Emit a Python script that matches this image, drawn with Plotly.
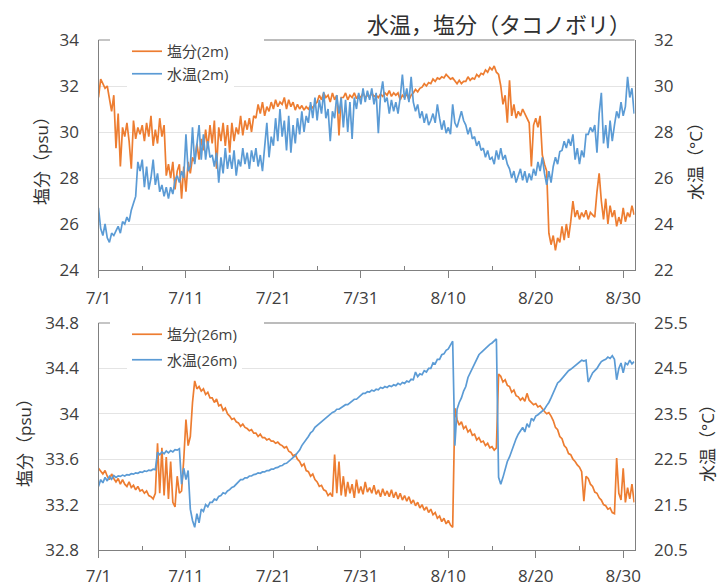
import pandas as pd
import plotly.graph_objects as go

# ---------------- data (6-hourly, starting 2023-07-01 00:00) ----------------
start_time = "2023-07-01 00:00"
step = "6h"

sal_2m = [
    31.5, 32.3, 32.1, 31.9,
    32.0, 31.4, 30.9, 31.6,
    29.3, 30.8, 28.5, 30.2,
    29.8, 30.4, 29.6, 28.4,
    30.5, 29.7, 30.2, 29.9,
    30.3, 29.6, 30.4, 29.8,
    30.7, 29.4, 30.1, 29.5,
    30.6, 29.8, 30.3, 28.1,
    28.6, 28.0, 28.7, 27.5,
    28.3, 28.6, 27.1, 28.5,
    27.4, 28.7, 28.2, 28.9,
    28.7, 29.5, 28.8, 29.7,
    29.2, 30.1, 29.3, 30.3,
    29.5, 30.5, 28.4, 30.2,
    29.6, 30.4, 29.4, 30.3,
    29.1, 30.4, 29.6, 30.2,
    29.9, 30.7, 29.85, 30.5,
    30.1, 30.6, 30.0, 30.7,
    30.6, 31.2, 30.8, 31.3,
    30.7, 31.1, 30.9, 31.3,
    31.0, 31.4, 31.1, 31.3,
    31.2, 31.5, 31.0, 31.4,
    31.1, 31.3, 30.95, 31.2,
    31.0, 31.15, 30.95, 31.1,
    31.0, 31.15, 31.05, 31.2,
    31.3, 31.6, 31.4, 31.7,
    31.5, 31.6, 31.3, 31.7,
    31.4, 31.6, 29.85, 31.5,
    31.5, 31.7, 31.4, 31.6,
    31.5, 31.7, 31.45, 31.6,
    31.5, 31.7, 31.5, 31.6,
    31.5, 31.7, 31.55, 31.6,
    31.5, 31.65, 31.55, 31.7,
    31.6, 31.8, 31.55, 31.7,
    31.6, 31.7, 31.4, 31.6,
    31.5, 31.65, 31.4, 31.6,
    31.7, 31.85, 31.75, 31.9,
    31.95, 32.1, 32.0, 32.15,
    32.1, 32.3, 32.2, 32.35,
    32.3, 32.4, 32.35, 32.5,
    32.4, 32.3, 32.35, 32.2,
    32.1, 32.25, 32.1, 32.2,
    32.2, 32.4, 32.25, 32.35,
    32.3, 32.5, 32.4, 32.55,
    32.5, 32.7, 32.6, 32.8,
    32.7, 32.87, 32.6, 32.5,
    32.0, 31.2, 31.6, 30.4,
    32.25, 30.7, 31.2, 30.6,
    30.9, 30.7, 31.0, 30.8,
    30.6, 30.4, 28.5, 30.3,
    30.6, 30.2, 30.7, 29.0,
    28.6, 28.3, 25.6, 25.1,
    25.5, 24.85, 25.4, 25.2,
    25.9, 25.3, 26.0, 25.4,
    26.1, 27.0, 26.3, 26.6,
    26.2, 26.5, 26.3, 26.6,
    26.2, 26.5, 26.4, 26.3,
    27.4, 28.2, 27.0, 26.2,
    27.1, 26.0, 26.8, 26.3,
    26.6, 25.9, 26.3, 26.0,
    26.7, 26.1, 26.5, 26.3,
    26.8, 26.4,
]

temp_2m = [
    24.7, 23.8, 23.5, 24.0,
    23.4, 23.2, 23.6, 23.5,
    23.7, 23.9, 23.6, 24.1,
    24.0, 24.3, 24.1, 24.6,
    24.9, 25.2, 26.7, 26.3,
    26.8, 25.6, 26.5, 25.5,
    26.0, 26.8, 25.7, 26.2,
    25.4, 25.7, 25.2, 25.6,
    25.1, 25.6, 25.3, 25.9,
    26.1, 25.8, 26.3, 26.0,
    27.9, 26.3, 26.5, 28.2,
    26.6, 27.4, 28.3, 26.8,
    27.9, 26.8, 27.6, 26.9,
    27.0, 26.5, 27.1, 25.8,
    26.9, 26.2, 27.3, 26.4,
    27.0, 26.4, 27.2, 26.1,
    26.8, 26.5, 27.3, 26.6,
    27.1, 26.4, 27.2, 26.7,
    27.3, 26.5, 27.0, 26.3,
    27.5, 28.4, 26.9, 27.8,
    27.4, 28.6, 27.6, 29.0,
    27.8, 28.5, 27.2, 28.7,
    27.1, 28.3, 27.5, 28.6,
    27.9, 28.9, 28.0, 28.7,
    28.4, 29.3, 28.6, 29.5,
    28.5, 29.4, 28.8, 29.75,
    28.6, 29.0, 27.6, 28.9,
    28.6, 29.6, 28.8, 29.5,
    28.2, 29.4, 28.0, 29.3,
    27.7, 29.5, 29.0, 29.7,
    29.2, 29.9, 29.3, 29.8,
    29.4, 29.9, 29.2, 29.7,
    27.95, 29.6, 30.2, 29.3,
    29.5, 28.8, 29.4, 28.9,
    29.3, 28.8, 29.5, 30.5,
    29.4, 29.9, 29.3, 30.4,
    29.3, 28.9, 29.2, 28.6,
    28.9, 28.4, 28.8, 28.3,
    28.5, 28.8, 28.4, 29.2,
    28.6, 28.1, 28.5, 27.95,
    28.2, 27.9, 29.2, 28.4,
    28.2, 28.6, 28.9, 28.5,
    28.3, 27.9, 28.2, 27.7,
    27.8, 27.4, 27.6, 27.2,
    27.3, 26.9, 27.2, 26.8,
    26.9, 26.6, 27.2, 26.8,
    27.3, 26.8, 27.0, 26.6,
    26.4, 26.0, 26.3, 25.8,
    26.1, 26.4, 25.9, 26.3,
    25.8, 26.2, 25.9, 26.4,
    26.1, 26.7, 26.3, 26.9,
    26.2, 25.7, 26.3, 25.8,
    26.5, 26.9, 26.6, 27.15,
    27.2, 27.6, 27.3, 27.7,
    27.4, 27.9, 26.8, 27.3,
    26.6, 27.2, 26.9, 27.9,
    27.9, 28.2, 28.0, 28.3,
    27.1, 28.8, 29.7, 27.5,
    28.3, 27.3, 28.5, 27.6,
    28.3, 28.9, 28.6, 29.3,
    28.7, 29.1, 30.4, 29.5,
    29.9, 28.8,
]

sal_26m = [
    33.52, 33.49, 33.47, 33.50,
    33.45, 33.42, 33.47, 33.43,
    33.40, 33.43, 33.38, 33.42,
    33.38, 33.36, 33.40, 33.35,
    33.37, 33.33, 33.36, 33.32,
    33.33, 33.30, 33.32, 33.28,
    33.27, 33.25, 33.30, 33.74,
    33.30, 33.70, 33.28, 33.62,
    33.25, 33.58, 33.22, 33.18,
    33.45, 33.30, 33.32, 33.60,
    33.95, 33.72, 33.80, 34.10,
    34.29, 34.22, 34.24, 34.20,
    34.22, 34.17, 34.19, 34.14,
    34.14, 34.10, 34.13, 34.07,
    34.08, 34.03, 34.05, 34.00,
    33.98, 33.95, 33.96, 33.93,
    33.92, 33.89, 33.91, 33.88,
    33.87, 33.85, 33.86, 33.83,
    33.83, 33.80, 33.82, 33.79,
    33.79, 33.77, 33.78, 33.76,
    33.76, 33.74, 33.75, 33.73,
    33.72, 33.70, 33.71, 33.67,
    33.66, 33.63, 33.64, 33.60,
    33.58, 33.54, 33.56, 33.50,
    33.49, 33.45, 33.47, 33.42,
    33.40, 33.36, 33.37, 33.33,
    33.32, 33.28, 33.30, 33.27,
    33.64, 33.30, 33.58, 33.28,
    33.45, 33.27, 33.40, 33.30,
    33.38, 33.26, 33.42, 33.30,
    33.36, 33.29, 33.40, 33.31,
    33.35, 33.30, 33.37, 33.29,
    33.33, 33.27, 33.34, 33.28,
    33.32, 33.27, 33.33, 33.26,
    33.31, 33.25, 33.30, 33.24,
    33.28, 33.23, 33.27, 33.21,
    33.24, 33.19, 33.22, 33.17,
    33.20, 33.15, 33.18, 33.13,
    33.16, 33.11, 33.13, 33.08,
    33.10, 33.05, 33.08, 33.03,
    33.06, 33.02, 33.00, 34.05,
    33.95, 33.90, 33.93, 33.87,
    33.89, 33.84, 33.86, 33.81,
    33.82, 33.77, 33.79, 33.75,
    33.76, 33.72, 33.74, 33.70,
    33.71, 33.68, 33.70, 34.35,
    34.33, 34.28, 34.30, 34.25,
    34.24, 34.19, 34.21, 34.16,
    34.15, 34.12, 34.14, 34.11,
    34.18, 34.12, 34.10, 34.08,
    34.09, 34.06, 34.07, 34.04,
    34.02, 34.00, 34.01, 33.98,
    33.94, 33.88, 33.86, 33.80,
    33.78, 33.72, 33.70, 33.65,
    33.64, 33.60, 33.58, 33.55,
    33.53, 33.49, 33.23, 33.45,
    33.43, 33.38, 33.36, 33.31,
    33.30, 33.26, 33.24, 33.20,
    33.19, 33.16, 33.17, 33.13,
    33.12, 33.61, 33.30, 33.24,
    33.52, 33.22, 33.35, 33.25,
    33.38, 33.22,
]

temp_26m = [
    21.90, 22.05, 21.98, 22.10,
    22.02, 22.12, 22.06, 22.14,
    22.10, 22.13, 22.12, 22.15,
    22.13, 22.16, 22.15, 22.18,
    22.17, 22.20, 22.19, 22.22,
    22.21, 22.24, 22.23, 22.26,
    22.25, 22.28, 22.27, 22.65,
    22.60, 22.66, 22.62, 22.68,
    22.64, 22.69, 22.66, 22.71,
    22.70, 22.73, 21.95, 22.30,
    22.05, 22.25, 21.40, 21.15,
    21.00, 21.30, 21.10, 21.40,
    21.35, 21.50, 21.45, 21.55,
    21.55, 21.62, 21.60, 21.68,
    21.70, 21.76, 21.74, 21.80,
    21.83, 21.88, 21.90, 21.95,
    21.98, 22.05, 22.05, 22.09,
    22.09, 22.13, 22.13, 22.16,
    22.17, 22.20, 22.19, 22.22,
    22.22, 22.25, 22.25, 22.28,
    22.28, 22.31, 22.32, 22.35,
    22.36, 22.40, 22.41, 22.45,
    22.48, 22.54, 22.58, 22.64,
    22.70, 22.80, 22.86, 22.94,
    23.00, 23.08, 23.12, 23.20,
    23.24, 23.30, 23.32, 23.38,
    23.40, 23.46, 23.48, 23.53,
    23.55, 23.60, 23.60, 23.64,
    23.66, 23.70, 23.70, 23.74,
    23.77, 23.82, 23.82, 23.87,
    23.90, 23.95, 23.95, 23.99,
    23.98, 24.02, 24.00, 24.04,
    24.03, 24.08, 24.06, 24.10,
    24.08, 24.12, 24.10, 24.14,
    24.12, 24.17, 24.14, 24.19,
    24.17, 24.22, 24.20, 24.26,
    24.25, 24.42, 24.32, 24.38,
    24.36, 24.45, 24.42, 24.50,
    24.50, 24.62, 24.60, 24.70,
    24.70, 24.80, 24.82, 24.90,
    24.93, 25.02, 25.10, 22.80,
    23.60, 23.75, 23.85, 24.00,
    24.10, 24.30, 24.40, 24.52,
    24.60, 24.70, 24.80, 24.85,
    24.90, 24.95, 24.98, 25.03,
    25.06, 25.10, 25.15, 22.10,
    21.95, 22.10, 22.30, 22.45,
    22.55, 22.70, 22.85, 22.95,
    23.05, 23.12, 23.20, 23.10,
    23.28, 23.20, 23.40, 23.35,
    23.45, 23.48, 23.52, 23.58,
    23.60, 23.68, 23.75, 23.85,
    23.95, 24.08, 24.18, 24.22,
    24.28, 24.34, 24.38, 24.45,
    24.48, 24.52, 24.56, 24.60,
    24.62, 24.68, 24.66, 24.68,
    24.20, 24.30, 24.40, 24.45,
    24.50, 24.58, 24.65, 24.68,
    24.70, 24.75, 24.72, 24.78,
    24.70, 24.25, 24.50, 24.62,
    24.40, 24.62, 24.58, 24.68,
    24.60, 24.65,
]

tick_dates = ["2023-07-01", "2023-07-11", "2023-07-21", "2023-07-31",
              "2023-08-10", "2023-08-20", "2023-08-30"]
tick_labels = ["7/1", "7/11", "7/21", "7/31", "8/10", "8/20", "8/30"]
minor_dates = ["2023-07-06", "2023-07-16", "2023-07-26", "2023-08-05",
               "2023-08-15", "2023-08-25"]
x_range = ["2023-07-01 00:00", "2023-08-31 07:00"]

sal_2m_ticks = [24, 26, 28, 30, 32, 34]
temp_2m_ticks = [22, 24, 26, 28, 30, 32]
sal_26m_ticks = [32.8, 33.2, 33.6, 34.0, 34.4, 34.8]
sal_26m_labels = ["32.8", "33.2", "33.6", "34", "34.4", "34.8"]
temp_26m_ticks = [20.5, 21.5, 22.5, 23.5, 24.5, 25.5]
temp_26m_labels = ["20.5", "21.5", "22.5", "23.5", "24.5", "25.5"]

title_text = "水温，塩分（タコノボリ）"
sal_axis_title = "塩分（psu）"
temp_axis_title = "水温（°C）"

# ---------------- figure ----------------
def times_for(series):
    return pd.date_range(start_time, periods=len(series), freq=step)

W, H = 728, 586
def fx(p): return p / W
def fy(p): return 1 - p / H

X0, X1 = 98.5, 634.5
ORANGE = "#ED7D31"
BLUE = "#5B9BD5"
AX = "#808080"
GRID = "#E4E4E4"
TXT = "#404040"
FONT = "Open Sans, Noto Sans CJK JP, sans-serif"

fig = go.Figure()
fig.add_trace(go.Scatter(x=times_for(sal_2m), y=sal_2m, name="塩分(2m)", mode="lines",
                         line=dict(color=ORANGE, width=1.7), xaxis="x", yaxis="y",
                         legend="legend", legendgroup="a"))
fig.add_trace(go.Scatter(x=times_for(temp_2m), y=temp_2m, name="水温(2m)", mode="lines",
                         line=dict(color=BLUE, width=1.7), xaxis="x", yaxis="y2",
                         legend="legend", legendgroup="b"))
fig.add_trace(go.Scatter(x=times_for(sal_26m), y=sal_26m, name="塩分(26m)", mode="lines",
                         line=dict(color=ORANGE, width=1.7), xaxis="x2", yaxis="y3",
                         legend="legend2", legendgroup="c"))
fig.add_trace(go.Scatter(x=times_for(temp_26m), y=temp_26m, name="水温(26m)", mode="lines",
                         line=dict(color=BLUE, width=1.7), xaxis="x2", yaxis="y4",
                         legend="legend2", legendgroup="d"))

def xaxis_cfg(anchor, standoff):
    return dict(domain=[fx(X0), fx(X1)], anchor=anchor, type="date", range=x_range,
                automargin=False,
                tickmode="array", tickvals=tick_dates, ticktext=tick_labels,
                ticks="outside", ticklen=7, tickwidth=1.3, tickcolor=AX,
                showline=True, linecolor=AX, linewidth=1.3, showgrid=False, zeroline=False,
                minor=dict(tickmode="array", tickvals=minor_dates, ticks="inside",
                           ticklen=4, tickwidth=1.2, tickcolor=AX, showgrid=False),
                tickfont=dict(size=17, color=TXT), ticklabelstandoff=standoff)

def yleft_cfg(dom, rng, tv, tt, anchor):
    return dict(domain=dom, anchor=anchor, range=rng, tickmode="array", tickvals=tv, ticktext=tt,
                automargin=False,
                showline=True, linecolor=AX, linewidth=1.3, ticks="",
                showgrid=True, gridcolor=GRID, gridwidth=1.2, zeroline=False,
                tickfont=dict(size=17, color=TXT), ticklabelstandoff=15)

def yright_cfg(rng, tv, tt, anchor, over):
    return dict(anchor=anchor, overlaying=over, side="right", range=rng, tickmode="array",
                automargin=False,
                tickvals=tv, ticktext=tt, showline=True, linecolor=AX, linewidth=1.3, ticks="",
                showgrid=False, zeroline=False,
                tickfont=dict(size=17, color=TXT), ticklabelstandoff=15)

top_dom = [fy(270), fy(40)]
bot_dom = [fy(550), fy(323)]

fig.update_layout(
    width=W, height=H, margin=dict(l=0, r=0, t=0, b=0, autoexpand=False),
    paper_bgcolor="white", plot_bgcolor="white",
    font=dict(family=FONT, color=TXT),
    xaxis=xaxis_cfg("y", 5),
    xaxis2=xaxis_cfg("y3", 3),
    yaxis=yleft_cfg(top_dom, [24, 34], sal_2m_ticks, [str(v) for v in sal_2m_ticks], "x"),
    yaxis2=yright_cfg([22, 32], temp_2m_ticks, [str(v) for v in temp_2m_ticks], "x", "y"),
    yaxis3=yleft_cfg(bot_dom, [32.8, 34.8], sal_26m_ticks, sal_26m_labels, "x2"),
    yaxis4=yright_cfg([20.5, 25.5], temp_26m_ticks, temp_26m_labels, "x2", "y3"),
    legend=dict(x=fx(127), y=fy(35), xanchor="left", yanchor="top", bgcolor="white",
                font=dict(size=15, color=TXT), traceorder="grouped", tracegroupgap=0,
                borderwidth=0),
    legend2=dict(x=fx(127), y=fy(318), xanchor="left", yanchor="top", bgcolor="white",
                 font=dict(size=15, color=TXT), traceorder="grouped", tracegroupgap=3,
                 borderwidth=0),
    showlegend=True,
)

# top borders of plot areas (interrupted where the legend sits)
gap_l = (110 - X0) / (X1 - X0)
gap_r = (264 - X0) / (X1 - X0)
for xr, yr in (("x", "y"), ("x2", "y3")):
    for a, b in ((0, gap_l), (gap_r, 1)):
        fig.add_shape(type="line", xref=f"{xr} domain", yref=f"{yr} domain",
                      x0=a, x1=b, y0=1, y1=1, line=dict(color="#A6A6A6", width=1.3),
                      layer="below")

# title and axis titles
fig.add_annotation(text=title_text, x=fx(633), y=fy(24), xref="paper", yref="paper",
                   xanchor="right", yanchor="middle", showarrow=False,
                   font=dict(size=22, color="#303030"))
for yc, xl, xr in ((157, 41, 695), (439, 24, 707)):
    fig.add_annotation(text=sal_axis_title, x=fx(xl), y=fy(yc), xref="paper", yref="paper",
                       textangle=-90, showarrow=False, xanchor="center", yanchor="middle",
                       font=dict(size=17, color="#303030"))
    fig.add_annotation(text=temp_axis_title, x=fx(xr), y=fy(yc), xref="paper", yref="paper",
                       textangle=-90, showarrow=False, xanchor="center", yanchor="middle",
                       font=dict(size=17, color="#303030"))

fig.write_html("out.html", config={"displayModeBar": False},
               post_script="document.body.style.margin='0px';document.body.style.overflow='hidden';")
